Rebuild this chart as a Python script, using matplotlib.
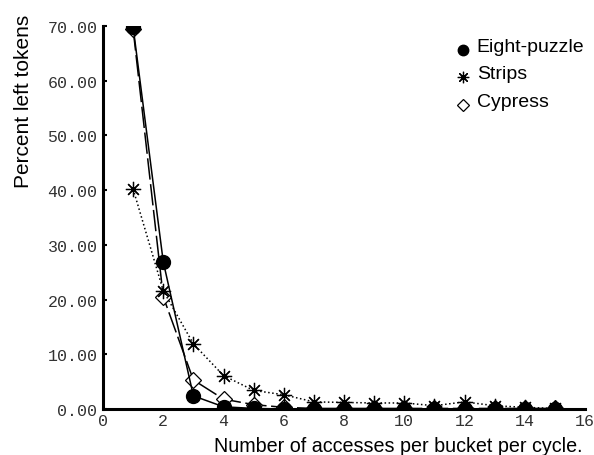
import matplotlib.pyplot as plt
from matplotlib.legend_handler import HandlerLine2D

x = list(range(1, 16))
eight_puzzle = [69.8, 26.9, 2.4, 0.4, 0.1, 0.0, 0.0, 0.0, 0.0, 0.0, 0.0, 0.0, 0.0, 0.0, 0.0]
strips = [40.2, 21.6, 11.9, 6.1, 3.4, 2.6, 1.3, 1.2, 1.1, 1.1, 0.6, 1.3, 0.6, 0.3, 0.1]
cypress = [69.4, 20.5, 5.3, 1.8, 0.8, 0.3, 0.1, 0.1, 0.1, 0.1, 0.1, 0.1, 0.1, 0.1, 0.1]

xticks = list(range(0, 17, 2))
yticks = [0, 10, 20, 30, 40, 50, 60, 70]


class LowMarker(HandlerLine2D):
    # legend markers sit on the text baseline, not its middle
    def create_artists(self, legend, orig_handle, xdescent, ydescent,
                       width, height, fontsize, trans):
        return super().create_artists(legend, orig_handle, xdescent,
                                      ydescent + 0.6 * fontsize, width, height,
                                      fontsize, trans)


fig = plt.figure(figsize=(5.94, 4.56), dpi=100)
ax = fig.add_axes([0.1734, 0.1009, 0.8116, 0.8399])

# draw order: eight-puzzle dots sit over the diamonds
l_cyp, = ax.plot(x, cypress, color='black', lw=1.1, dashes=(14, 3), marker='D',
                 ms=8, mfc='white', mew=0.9, label='Cypress')
l_ep, = ax.plot(x, eight_puzzle, '-', color='black', lw=1.1, marker='o', ms=10,
                label='Eight-puzzle')
l_str, = ax.plot(x, strips, ':', color='black', lw=1.1, marker=(8, 2, 0), ms=11,
                 mew=0.9, label='Strips')

ax.set_xlim(0, 16)
ax.set_ylim(0, 70)
ax.set_xticks(xticks)
ax.set_yticks(yticks)
ax.set_yticklabels(['%.2f' % v for v in yticks])
for s in ['top', 'right']:
    ax.spines[s].set_visible(False)
for s in ['left', 'bottom']:
    ax.spines[s].set_linewidth(2.2)
ax.tick_params(axis='y', direction='in', length=3, width=1.5, pad=4)
ax.tick_params(axis='x', length=0, pad=3)
for lab in ax.get_xticklabels() + ax.get_yticklabels():
    lab.set_family('Liberation Mono')
    lab.set_fontsize(12)
    lab.set_color('#333333')

fig.text(0.98, 0.009, 'Number of accesses per bucket per cycle.', ha='right',
         va='baseline', family='Liberation Sans', fontsize=14.2)
fig.text(0.039, 0.967, 'Percent left tokens', rotation=90, ha='center', va='top',
         family='Liberation Sans', fontsize=15)

leg = ax.legend([l_ep, l_str, l_cyp], ['Eight-puzzle', 'Strips', 'Cypress'],
                loc='upper left', bbox_to_anchor=(0.735, 0.97), frameon=False,
                borderpad=0, borderaxespad=0,
                handlelength=0.6, handletextpad=0.4, markerscale=0.75,
                labelspacing=0.5, prop={'family': 'Liberation Sans', 'size': 14},
                handler_map={l_ep: LowMarker(), l_str: LowMarker(), l_cyp: LowMarker()})
for h in leg.get_lines():
    h.set_linestyle('none')

fig.savefig('out.png', dpi=100)
